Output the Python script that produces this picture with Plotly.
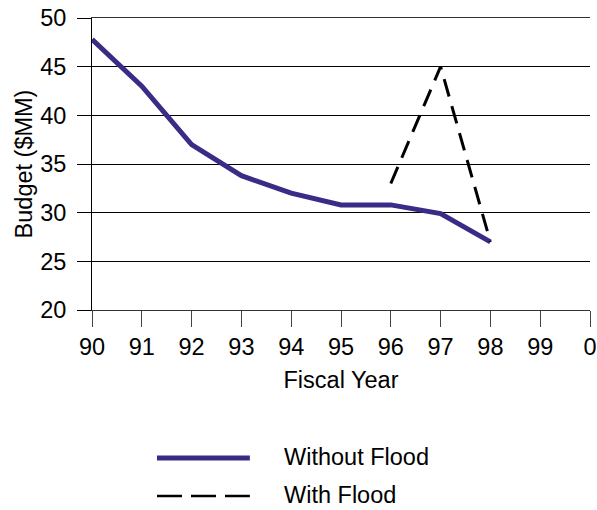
import plotly.graph_objects as go

categories = ["90", "91", "92", "93", "94", "95", "96", "97", "98", "99", "0"]
years_without = ["90", "91", "92", "93", "94", "95", "96", "97", "98"]
without_flood = [47.8, 43.0, 37.0, 33.8, 32.0, 30.8, 30.8, 29.9, 27.0]
years_with = ["96", "97", "98"]
with_flood = [33.0, 45.0, 27.0]
y_ticks = [20, 25, 30, 35, 40, 45, 50]
legend_names = ["Without Flood", "With Flood"]

purple = "#382c86"
font_family = "Liberation Sans, Arial, sans-serif"
fs = 23.5

fig = go.Figure()
fig.add_trace(go.Scatter(x=years_without, y=without_flood, mode="lines",
                         line=dict(color=purple, width=5), name=legend_names[0],
                         showlegend=False))
fig.add_trace(go.Scatter(x=years_with, y=with_flood, mode="lines",
                         line=dict(color="black", width=3, dash="18px,10px"),
                         name=legend_names[1], showlegend=False))

# custom legend (paper coordinates)
fig.add_shape(type="line", xref="paper", yref="paper", x0=0.1305, x1=0.317,
              y0=-0.507, y1=-0.507, line=dict(color=purple, width=5))
fig.add_shape(type="line", xref="paper", yref="paper", x0=0.1305, x1=0.317,
              y0=-0.637, y1=-0.637, line=dict(color="black", width=2.5, dash="25px,9px"))
fig.add_annotation(xref="paper", yref="paper", x=0.3815, y=-0.503, text=legend_names[0],
                   showarrow=False, xanchor="left", yanchor="middle",
                   font=dict(size=fs, color="black", family=font_family))
fig.add_annotation(xref="paper", yref="paper", x=0.3815, y=-0.634, text=legend_names[1],
                   showarrow=False, xanchor="left", yanchor="middle",
                   font=dict(size=fs, color="black", family=font_family))

fig.update_layout(
    width=597, height=510,
    margin=dict(l=92, r=7, t=18, b=200),
    plot_bgcolor="white", paper_bgcolor="white",
    font=dict(family=font_family, color="black", size=fs),
    xaxis=dict(type="category", categoryorder="array", categoryarray=categories,
               range=[0, 10], showgrid=False, ticks="outside", ticklen=16,
               tickcolor="#444", showline=True, linecolor="#333", linewidth=1,
               mirror=True, ticklabeloverflow="allow",
               tickfont=dict(size=fs), zeroline=False, ticklabelstandoff=0,
               automargin=False,
               title=dict(text="Fiscal Year", font=dict(size=fs), standoff=12)),
    yaxis=dict(range=[20, 50], tickvals=y_ticks,
               showgrid=True, gridcolor="black", ticklabeloverflow="allow",
               gridwidth=1, ticks="outside", ticklen=14, tickcolor="black",
               showline=True, linecolor="black", linewidth=1, zeroline=False,
               tickfont=dict(size=fs), ticklabelstandoff=6, automargin=False,
               title=dict(text="Budget ($MM)", font=dict(size=fs), standoff=0)),
)

fig.write_html("out.html", config={"displayModeBar": False},
               post_script="document.body.style.margin='0';")
